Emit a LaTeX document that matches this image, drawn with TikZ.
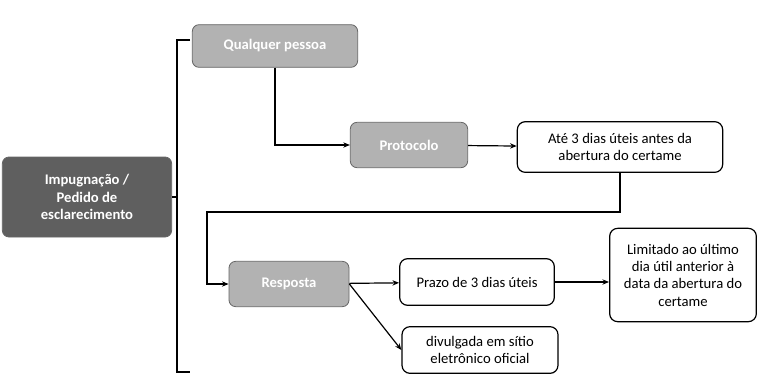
\documentclass[tikz,border=0pt]{standalone}
\usepackage{fontspec}
\setmainfont{Carlito}
\usetikzlibrary{arrows.meta,positioning,calc}
\definecolor{boxDark}{RGB}{95,95,95}
\definecolor{boxLight}{RGB}{178,178,178}
\tikzset{
  greybox/.style={draw=black!60, fill=boxLight, rounded corners=5pt, text=white,
    font=\fontsize{11}{13}\selectfont\bfseries, align=center, line width=0.6pt},
  whitebox/.style={draw, fill=white, rounded corners=6pt, line width=0.9pt,
    font=\fontsize{11}{13}\selectfont, align=center},
  flow/.style={-{Stealth[length=5pt,width=4pt]}, line width=0.9pt}
}
\begin{document}
\begin{tikzpicture}[x=0.75pt, y=-0.75pt]
  \useasboundingbox (0,0) rectangle (759,375);

  \node[greybox, fill=boxDark, minimum width=127pt, minimum height=60pt]
    (imp) at (87,197) {Impugnação /\\Pedido de\\esclarecimento};

  % bracket
  \draw[line width=2pt] (190,40) -- (177,40) -- (177,372) -- (190,372);
  \draw[line width=1pt] (imp.east) -- (177,197);

  \node[greybox, minimum width=124pt, minimum height=32pt]
    (qual) at (275,46) {Qualquer pessoa};
  \node[greybox, minimum width=88pt, minimum height=34pt]
    (prot) at (409,145) {Protocolo};
  \node[whitebox, minimum width=154pt, minimum height=38pt]
    (ate) at (620,147) {Até 3 dias úteis antes da\\abertura do certame};

  \node[greybox, minimum width=90pt, minimum height=34pt]
    (resp) at (289,284) {Resposta};
  \node[whitebox, minimum width=116pt, minimum height=35pt]
    (prazo) at (477,282) {Prazo de 3 dias úteis};
  \node[whitebox, minimum width=110pt, minimum height=70pt]
    (lim) at (683,275) {Limitado ao último\\dia útil anterior à\\data da abertura do\\certame};
  \node[whitebox, minimum width=117pt, minimum height=35pt]
    (div) at (480,350) {divulgada em sítio\\eletrônico oficial};

  \coordinate (turn) at (207,212);

  \draw[flow] (qual.south) |- (prot.west);
  \draw[flow] (prot) -- (ate);
  \draw[flow] (ate.south) |- (turn) |- (resp.west);
  \draw[flow] (resp) -- (prazo);
  \draw[flow] (prazo) -- (prazo -| lim.west);
  \draw[flow] (resp.east) -- (div.west);
\end{tikzpicture}
\end{document}
